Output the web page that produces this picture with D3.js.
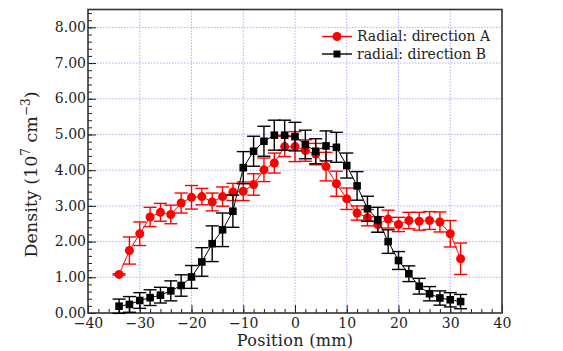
<!DOCTYPE html>
<html>
<head>
<meta charset="utf-8">
<script src="https://cdn.jsdelivr.net/npm/d3@7"></script>
<style>
  body { margin: 0; background: #fff; }
  svg text { font-family: "DejaVu Serif", "Liberation Serif", serif; fill: #222; }
</style>
</head>
<body>
<svg class="chart"></svg>
<script>
var width = 563,
    height = 351;

var margin = {top: 9.5, right: 61, bottom: 38, left: 88},
    w = width - margin.left - margin.right,
    h = height - margin.top - margin.bottom;

// positions (mm)
var positions = [-34,-32,-30,-28,-26,-24,-22,-20,-18,-16,-14,-12,-10,-8,-6,-4,-2,0,2,4,6,8,10,12,14,16,18,20,22,24,26,28,30,32];

var densityA = [1.08,1.75,2.22,2.69,2.82,2.76,3.08,3.24,3.26,3.11,3.26,3.39,3.41,3.60,4.01,4.20,4.66,4.66,4.55,4.45,4.10,3.62,3.20,2.80,2.67,2.48,2.63,2.48,2.59,2.57,2.59,2.55,2.22,1.52];
var errorA   = [0.02,0.38,0.33,0.27,0.25,0.26,0.28,0.33,0.23,0.25,0.27,0.24,0.26,0.30,0.33,0.28,0.28,0.42,0.30,0.30,0.40,0.35,0.30,0.20,0.23,0.22,0.25,0.20,0.23,0.25,0.25,0.28,0.37,0.44];

var densityB = [0.19,0.24,0.35,0.43,0.50,0.62,0.77,1.01,1.43,1.94,2.33,2.85,4.07,4.53,4.81,4.98,4.98,4.94,4.72,4.53,4.68,4.64,4.13,3.56,2.92,2.61,2.00,1.47,1.10,0.75,0.54,0.42,0.37,0.32];
var errorB   = [0.20,0.22,0.22,0.22,0.22,0.28,0.30,0.32,0.40,0.50,0.47,0.45,0.45,0.42,0.42,0.42,0.42,0.40,0.40,0.35,0.42,0.42,0.35,0.40,0.35,0.35,0.33,0.25,0.22,0.22,0.20,0.20,0.20,0.20];

var seriesNames = ["Radial: direction A", "radial: direction B"];
var seriesColors = ["#ff0000", "#000000"];

var xTicks = [-40,-30,-20,-10,0,10,20,30,40];
var yTicks = [0,1,2,3,4,5,6,7,8];

var x = d3.scaleLinear().domain([-40, 40]).range([0, w]),
    y = d3.scaleLinear().domain([0, 8.5]).range([h, 0]);

var svg = d3.select(".chart")
    .attr("width", width)
    .attr("height", height);

var chart = svg.append("g")
    .attr("transform", "translate(" + margin.left + "," + margin.top + ")");

// grid
chart.append("g").selectAll("line")
    .data(xTicks.slice(1, -1))
  .enter().append("line")
    .attr("x1", function(d) { return x(d); })
    .attr("x2", function(d) { return x(d); })
    .attr("y1", 0).attr("y2", h)
    .attr("stroke", "#9a9aff").attr("stroke-width", 0.8)
    .attr("stroke-dasharray", "1.5,1.5");

chart.append("g").selectAll("line")
    .data(yTicks.slice(1))
  .enter().append("line")
    .attr("y1", function(d) { return y(d); })
    .attr("y2", function(d) { return y(d); })
    .attr("x1", 0).attr("x2", w)
    .attr("stroke", "#9a9aff").attr("stroke-width", 0.8)
    .attr("stroke-dasharray", "1.5,1.5");

// axes (ticks inward)
var fmtX = function(d) { return d < 0 ? "\u2212" + Math.abs(d) : d; };

chart.append("g")
    .attr("transform", "translate(0," + h + ")")
    .call(d3.axisTop(x).tickValues(d3.range(-38, 40, 2)).tickSize(4).tickFormat(""));
var xAxis = chart.append("g")
    .attr("class", "x axis")
    .attr("transform", "translate(0," + h + ")")
    .call(d3.axisTop(x).tickValues(xTicks).tickSize(8).tickFormat(fmtX));
xAxis.selectAll("text").attr("y", 5).attr("dy", "0.71em").style("font-size", "14px");

chart.append("g")
    .call(d3.axisRight(y).tickValues(d3.range(0.2, 8.5, 0.2)).tickSize(4).tickFormat(""));
var yAxis = chart.append("g")
    .attr("class", "y axis")
    .call(d3.axisRight(y).tickValues(yTicks).tickSize(8).tickFormat(d3.format(".2f")));
yAxis.selectAll("text").attr("x", -2).attr("dy", "0.3em").attr("text-anchor", "end").style("font-size", "14px");

chart.selectAll(".domain").remove();
chart.selectAll(".tick line").attr("stroke", "#222").attr("stroke-width", 1);

// frame
chart.append("rect")
    .attr("width", w).attr("height", h)
    .attr("fill", "none").attr("stroke", "#333").attr("stroke-width", 1.6);

// series
var series = [
  {name: seriesNames[0], color: seriesColors[0], values: densityA, errors: errorA, shape: "circle"},
  {name: seriesNames[1], color: seriesColors[1], values: densityB, errors: errorB, shape: "square"}
];

var line = d3.line()
    .x(function(d) { return x(d.pos); })
    .y(function(d) { return y(d.val); });

series.forEach(function(s) {
  var pts = positions.map(function(p, i) { return {pos: p, val: s.values[i], err: s.errors[i]}; });
  var g = chart.append("g");

  g.append("path")
      .datum(pts)
      .attr("d", line)
      .attr("fill", "none")
      .attr("stroke", s.color)
      .attr("stroke-width", 1);

  var eb = g.selectAll(".err").data(pts).enter().append("g");
  eb.append("line")
      .attr("x1", function(d) { return x(d.pos); })
      .attr("x2", function(d) { return x(d.pos); })
      .attr("y1", function(d) { return y(d.val - d.err); })
      .attr("y2", function(d) { return y(d.val + d.err); })
      .attr("stroke", s.color).attr("stroke-width", 1.4);
  [1, -1].forEach(function(sign) {
    eb.append("line")
        .attr("x1", function(d) { return x(d.pos) - 6.5; })
        .attr("x2", function(d) { return x(d.pos) + 6.5; })
        .attr("y1", function(d) { return y(d.val + sign * d.err); })
        .attr("y2", function(d) { return y(d.val + sign * d.err); })
        .attr("stroke", s.color).attr("stroke-width", 1.4);
  });

  if (s.shape === "circle") {
    g.selectAll(".mk").data(pts).enter().append("circle")
        .attr("cx", function(d) { return x(d.pos); })
        .attr("cy", function(d) { return y(d.val); })
        .attr("r", 4.5)
        .attr("fill", s.color);
  } else {
    g.selectAll(".mk").data(pts).enter().append("rect")
        .attr("x", function(d) { return x(d.pos) - 3.8; })
        .attr("y", function(d) { return y(d.val) - 3.8; })
        .attr("width", 7.6).attr("height", 7.6)
        .attr("fill", s.color);
  }
});

// legend
var legend = chart.append("g")
    .attr("transform", "translate(" + (322 - margin.left) + "," + (36.5 - margin.top) + ")");
series.forEach(function(s, i) {
  var row = legend.append("g").attr("transform", "translate(0," + (i * 17.5) + ")");
  row.append("line").attr("x1", 0).attr("x2", 30).attr("stroke", s.color).attr("stroke-width", 1.4);
  if (s.shape === "circle") {
    row.append("circle").attr("cx", 15).attr("r", 4.5).attr("fill", s.color);
  } else {
    row.append("rect").attr("x", 11.5).attr("y", -3.5).attr("width", 7).attr("height", 7).attr("fill", s.color);
  }
  row.append("text")
      .attr("x", 35).attr("dy", "0.35em")
      .style("font-size", "14px")
      .text(s.name);
});

// axis titles
svg.append("text")
    .attr("x", margin.left + x(0))
    .attr("y", 345.5)
    .attr("text-anchor", "middle")
    .style("font-size", "16px")
    .style("letter-spacing", "0.3px")
    .text("Position (mm)");

var yt = svg.append("text")
    .attr("transform", "translate(37,174.5) rotate(-90)")
    .attr("text-anchor", "middle")
    .style("font-size", "17.5px");
yt.append("tspan").text("Density (10");
yt.append("tspan").attr("dy", -7).style("font-size", "12px").text("7");
yt.append("tspan").attr("dy", 7).text(" cm");
yt.append("tspan").attr("dy", -7).style("font-size", "12px").text("\u22123");
yt.append("tspan").attr("dy", 7).text(")");
</script>
</body>
</html>
